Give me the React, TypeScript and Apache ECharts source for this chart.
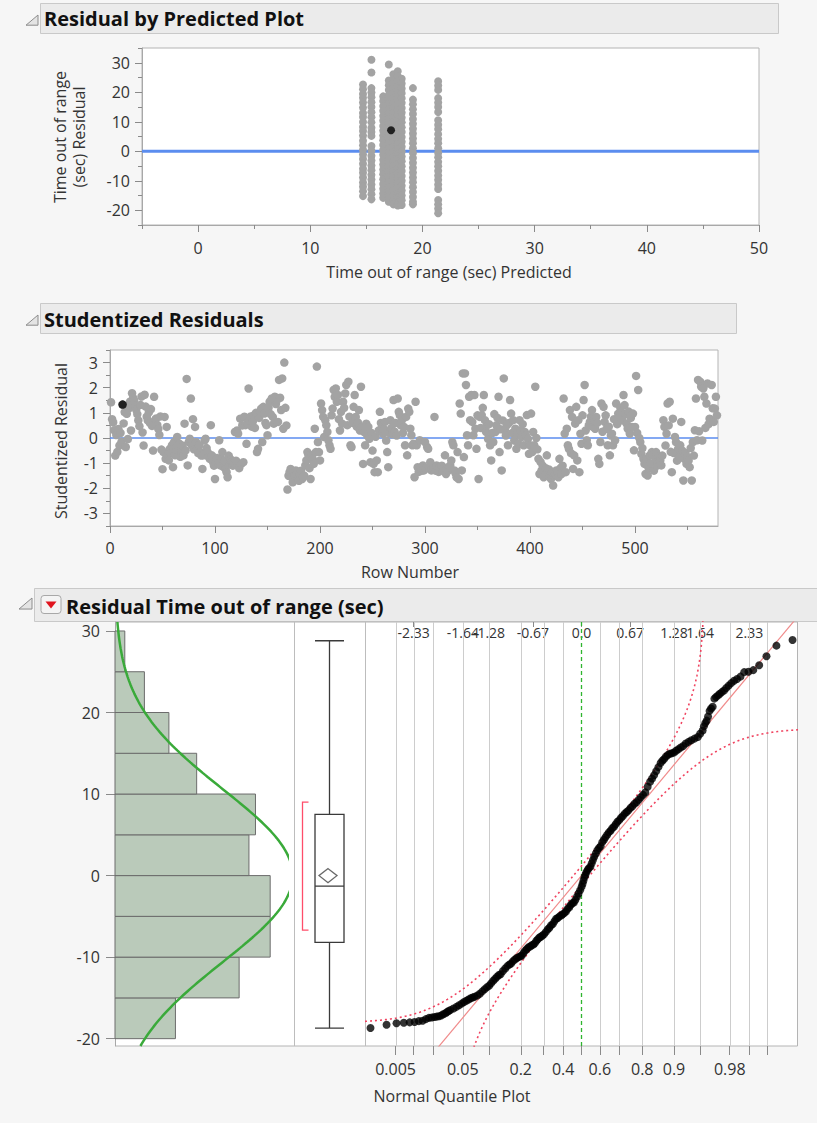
import React, { useEffect, useRef } from "react";
import * as echarts from "echarts";

const FONT = "'Open Sans', 'Noto Sans', 'DejaVu Sans', sans-serif";
const TEXT = "#333333";
const AXIS = "#a8a8a8";
const TICK = "#8a8a8a";

// ---------- Residual by Predicted ----------
const predLevels = [14.7, 15.45, 16.5, 17.0, 17.4, 17.8, 18.15, 19.15, 21.4];
const residualColumns: number[][] = [
  [22.6, 21.0, 19.4, 18.1, 16.5, 14.8, 13.0, 11.6, 9.9, 8.2, 6.9, 5.3, 3.6, 2.0, 0.5, -1.1, -2.6, -4.2, -5.9, -7.3, -8.9, -10.6, -12.0, -13.6, -15.2],
  [31.0, 26.7, 21.4, 19.9, 18.3, 16.6, 15.0, 13.2, 11.5, 9.8, 8.0, 6.5, 5.2, 1.8, 0.2, -1.5, -3.1, -4.8, -6.4, -8.0, -9.6, -11.3, -12.9, -14.6, -16.3],
  [18.6, 17.0, 15.3, 13.7, 12.0, 10.4, 8.6, 7.0, 5.3, 3.7, 2.1, 0.4, -1.2, -2.9, -4.5, -6.2, -7.8, -9.5, -11.1, -12.7, -14.3, -15.8],
  [29.4, 24.0, 22.4, 20.8, 19.1, 17.5, 15.9, 14.2, 12.6, 10.9, 9.3, 7.6, 6.0, 4.3, 2.7, 1.0, -0.6, -2.3, -3.9, -5.6, -7.2, -8.9, -10.5, -12.2, -13.8, -15.5, -17.1],
  [26.1, 24.5, 22.9, 21.2, 19.6, 17.9, 16.3, 14.6, 13.0, 11.3, 9.7, 8.0, 6.4, 4.7, 3.1, 1.4, -0.2, -1.9, -3.5, -5.2, -6.8, -8.5, -10.1, -11.8, -13.4, -15.1, -16.7, -18.0],
  [27.1, 25.4, 23.8, 22.1, 20.5, 18.8, 17.2, 15.5, 13.9, 12.2, 10.6, 8.9, 7.3, 5.6, 4.0, 2.3, 0.7, -1.0, -2.6, -4.3, -5.9, -7.6, -9.2, -10.9, -12.5, -14.2, -15.8, -17.5, -18.4],
  [24.6, 23.0, 21.3, 19.7, 18.0, 16.4, 14.7, 13.1, 11.4, 9.8, 8.1, 6.5, 4.8, 3.2, 1.5, -0.1, -1.8, -3.4, -5.1, -6.7, -8.4, -10.0, -11.7, -13.3, -15.0, -16.6, -18.2],
  [21.4, 17.5, 15.9, 14.2, 12.6, 10.9, 9.3, 7.6, 6.0, 4.3, 2.7, 1.0, -0.6, -2.3, -3.9, -5.6, -7.2, -8.9, -10.5, -12.2, -13.8, -15.5, -17.1, -18.0],
  [23.7, 22.3, 20.8, 18.0, 16.5, 15.0, 13.3, 10.5, 9.0, 7.5, 5.8, 4.2, 2.7, 1.0, -0.5, -2.0, -3.6, -5.1, -6.6, -8.2, -9.7, -11.3, -12.8, -16.5, -18.0, -19.4, -21.0],
];
const highlightPred = 17.2;
const highlightResidual = 7.1;
const predTicks = [0, 10, 20, 30, 40, 50];
const predMinorTicks = [-5, 5, 15, 25, 35, 45];
const residTicks = [-20, -10, 0, 10, 20, 30];
const residMinorTicks = [-25, -15, -5, 5, 15, 25, 35];

// ---------- Studentized residuals (rows 1..578) ----------
const studentized = [
  1.42, 0.75, 0.62, 0.31, -0.7, 0.12, -0.55, 0.36, -0.3, 0.2,
  -0.15, 1.33, 0.58, 1.03, -0.36, 0.96, -0.04, 1.18, 1.44, 0.3,
  1.78, 1.6, 1.5, 1.27, 1.12, 0.95, 0.7, 0.47, 1.32, 1.65,
  0.22, -0.3, 1.72, 1.25, 0.85, 0.7, 1.02, 0.6, 1.15, 0.48,
  -0.5, 1.64, 0.72, 0.78, 0.52, 0.36, 0.12, 0.86, -0.46, -1.24,
  -0.56, 0.84, -0.83, 0.44, -0.69, -0.89, -0.43, -0.6, -0.29, -1.16,
  -0.16, -0.69, -0.36, 0.04, -0.5, -0.23, -0.75, -0.56, -0.3, -0.69,
  0.57, -0.49, 2.35, -1.09, -0.16, -0.03, 1.57, -0.29, 0.75, -0.45,
  0.44, -0.16, -0.43, -0.6, -0.29, -0.56, -0.7, -1.23, -0.69, -0.1,
  -0.03, -0.4, -0.56, -0.75, -0.83, 0.51, -0.69, -0.95, -1.1, -1.63,
  -0.96, -0.8, -1.0, -0.09, -1.09, -0.83, -0.56, -1.15, -0.9, -1.23,
  -1.36, -1.56, -0.7, -1.05, -0.85, -0.96, -1.1, -1.0, 0.24, -0.9,
  0.3, 0.17, -1.2, 0.77, -1.03, 0.5, -0.96, 0.85, 0.51, -0.23,
  0.6, 1.97, 0.7, 0.86, 0.45, 0.65, 0.9, 0.4, 1.0, -0.56,
  -0.43, 0.8, 1.04, 1.17, -0.16, 1.24, 0.97, 0.6, 0.51, 0.11,
  1.2, 1.44, 0.95, 1.57, 0.84, 0.57, 1.64, 1.35, 1.51, 0.64,
  2.31, 1.6, 1.11, 2.37, 0.37, 3.0, 1.2, 0.5, -2.05, -1.5,
  -1.36, -1.23, -1.56, -1.76, -1.6, -1.49, -1.29, -1.45, -1.63, -1.7,
  -1.43, -1.3, -1.63, -1.56, -1.5, -1.09, -0.89, -0.56, -0.69, -1.2,
  -1.63, -0.69, -0.83, -1.03, 0.37, -0.56, 2.84, -0.16, -0.56, -0.89,
  1.37, 1.11, 0.84, 0.04, 0.71, 0.51, 0.24, -0.09, -0.29, -0.43,
  0.9, 1.17, 1.91, 1.64, 1.97, 1.44, 1.71, 0.75, 0.3, 1.04,
  0.57, 1.44, 1.2, 1.77, 2.11, 0.51, 2.24, 0.85, -0.29, -0.36,
  0.6, 1.24, 1.71, 0.84, 0.45, 0.62, 1.11, 0.3, 2.04, 0.44,
  -1.03, 0.24, -0.29, 0.57, 0.1, 0.44, -0.03, -0.96, 0.2, -0.5,
  -1.03, -1.36, 0.05, -0.89, -1.36, 0.3, 1.04, 0.6, 0.44, 0.17,
  0.35, 0.64, -0.1, -0.56, -1.16, 0.2, 0.71, 0.4, 0.15, 1.51,
  0.25, 0.6, 0.1, 1.57, 1.04, 0.91, 0.5, 0.71, 0.2, 0.44,
  -0.29, 0.84, -0.69, 1.17, 1.04, 0.37, 0.11, -0.29, -0.23, -1.56,
  1.44, -0.29, -1.16, -1.35, -0.09, -1.23, -1.3, -1.09, -1.29, -0.16,
  -1.2, -0.36, -0.43, -1.16, -0.96, -1.29, -1.22, -1.23, 0.84, -1.3,
  -1.09, -1.2, -1.35, -1.16, -1.25, -1.1, -1.29, -1.2, -0.69, -1.43,
  -1.23, -1.3, -1.15, -1.09, -0.89, -0.16, -0.29, -1.29, -1.4, -1.56,
  -0.56, -1.63, 1.37, 0.97, -1.29, 2.57, -0.76, 2.57, 2.11, 0.11,
  -0.29, 1.64, 0.71, 1.71, 0.64, 0.11, 1.71, 0.37, -0.43, 0.9,
  -1.63, 0.84, 0.4, 0.91, 1.2, 1.71, 0.71, 0.25, 0.51, -0.03,
  0.55, -0.29, -0.89, 0.2, -0.16, 0.95, 0.24, 0.51, 0.8, 1.64,
  -0.56, 0.35, -1.29, 0.7, 2.37, 0.31, 0.1, 0.51, -0.29, 0.6,
  1.51, 0.97, 0.2, 0.71, -0.1, 0.37, -0.43, 0.15, -0.23, 0.71,
  0.3, 0.04, 0.55, -0.29, 0.24, 0.1, 0.91, -0.03, -0.63, -0.29,
  0.97, -0.56, 0.24, -0.29, 2.04, 0.0, -0.45, -0.83, -1.43, -0.95,
  -1.29, -1.1, -1.56, -1.49, -1.2, -0.69, -1.36, -1.25, -1.56, -1.63,
  -1.35, -1.89, -1.5, -1.43, -1.29, -1.45, -1.56, -0.83, -1.2, -1.43,
  -1.1, 1.57, 0.17, -1.36, 0.37, -0.29, -0.43, 1.11, -0.6, 0.84,
  -1.23, -0.69, 0.57, 1.24, -0.89, 0.71, -1.36, 0.17, -0.23, 0.9,
  1.51, 2.11, 0.3, -0.09, -0.29, 0.5, 0.64, 0.85, 1.11, 0.44,
  0.7, 0.37, 0.84, 0.6, -0.83, -1.03, -0.16, 1.37, 0.25, 1.24,
  0.64, 0.9, 0.37, -0.29, 0.45, -0.69, 0.1, 0.17, -0.29, 0.75,
  -0.09, 1.37, 0.55, 0.97, 0.84, 1.2, 1.04, 0.7, 1.71, 1.31,
  0.95, 0.57, 0.37, 1.05, 0.17, 0.8, 0.44, 0.97, -0.49, 0.44,
  2.47, 0.2, 1.91, 0.0, -0.16, -0.63, -0.4, -0.83, -1.03, -1.43,
  -0.83, -1.49, -1.2, -0.69, -1.0, -0.56, -0.69, -1.3, -0.96, -0.56,
  -1.1, -0.76, -0.95, -0.89, -1.09, -0.7, 0.71, 0.44, -0.3, 0.17,
  1.37, 0.5, 1.44, -0.55, -1.36, 0.77, -0.6, 0.04, -0.16, -0.9,
  -0.43, -0.75, -0.29, 0.64, -0.5, -1.69, -0.83, -0.6, -1.03, -0.76,
  -0.9, -1.16, -0.4, -1.69, -0.16, -0.7, 0.31, 1.57, -0.09, 2.31,
  0.27, 2.24, 2.04, -0.1, 1.97, 1.64, 0.4, 1.37, 2.17, 0.55,
  0.77, 0.71, 2.11, 1.18, 0.64, 1.17, 1.64, 0.9,
];
const highlightRow = 12;
const rowTicks = [0, 100, 200, 300, 400, 500];
const rowMinorTicks = [50, 150, 250, 350, 450, 550];
const studTicks = [-3, -2, -1, 0, 1, 2, 3];
const studMinorTicks = [-3.5, -2.5, -1.5, -0.5, 0.5, 1.5, 2.5, 3.5];

// ---------- Distribution of residuals ----------
const nObs = 578;
const histBinStarts = [-20, -15, -10, -5, 0, 5, 10, 15, 20, 25];
const histBinWidth = 5;
const histCounts = [37, 76, 95, 95, 82, 86, 50, 33, 18, 6];
const distTicks = [-20, -10, 0, 10, 20, 30];
const boxStats = [-18.7, -8.2, -1.3, 7.5, 28.8]; // min, Q1, median, Q3, max
const residualMean = 0.0;
const residualSd = 10.6;
const shortestHalf = [-6.7, 9.0];
const lillieforsD = 0.0445;

const qqRanks = [
  1, 2, 3, 4, 5, 6, 7, 8, 9, 10, 11, 12, 13, 14, 15, 16, 17, 18, 19, 20,
  22, 24, 26, 28, 30, 32, 34, 36, 38, 40, 43, 46, 49, 52, 55, 58, 61, 64, 67, 70,
  73, 76, 80, 84, 88, 92, 95, 99, 103, 107, 111, 115, 118, 122, 126, 130, 134, 138, 142, 146,
  150, 154, 158, 162, 166, 170, 175, 180, 185, 190, 195, 200, 205, 210, 215, 220, 225, 230, 235, 240,
  245, 250, 255, 260, 265, 270, 275, 280, 285, 290, 293, 296, 299, 302, 305, 309, 313, 318, 322, 326,
  330, 335, 340, 345, 350, 355, 360, 365, 370, 375, 380, 385, 390, 395, 400, 405, 410, 415, 420, 425,
  430, 435, 440, 445, 450, 455, 460, 465, 470, 475, 480, 484, 488, 492, 496, 500, 503, 506, 509, 512,
  515, 518, 521, 524, 527, 530, 533, 536, 539, 542, 545, 548, 550, 552, 553, 554, 555, 556, 557, 558,
  559, 560, 561, 562, 563, 564, 565, 566, 567, 568, 569, 570, 571, 572, 573, 574, 575, 576, 577, 578,
];
const qqValues = [
  -18.7, -18.3, -18.1, -18.05, -18.0, -17.95, -17.85, -17.8, -17.6, -17.45, -17.4, -17.35, -17.3, -17.25, -17.15, -17.0, -16.9, -16.75, -16.6, -16.5,
  -16.3, -16.1, -15.9, -15.7, -15.5, -15.35, -15.2, -15.05, -14.95, -14.85, -14.7, -14.5, -14.2, -13.95, -13.7, -13.5, -13.2, -12.9, -12.65, -12.4,
  -12.2, -12.1, -11.7, -11.4, -11.1, -10.9, -10.8, -10.5, -10.3, -10.1, -10.0, -9.9, -9.8, -9.5, -9.2, -9.0, -8.8, -8.7, -8.55, -8.45,
  -8.3, -8.0, -7.8, -7.6, -7.5, -7.35, -7.2, -6.9, -6.6, -6.4, -6.1, -5.95, -5.6, -5.3, -5.2, -5.0, -4.9, -4.75, -4.6, -4.4,
  -4.1, -3.9, -3.6, -3.4, -3.3, -3.0, -2.6, -2.2, -1.8, -1.35, -1.0, -0.6, -0.2, 0.1, 0.4, 0.7, 0.9, 1.1, 1.5, 1.9,
  2.3, 2.7, 3.1, 3.4, 3.6, 4.1, 4.4, 4.7, 5.0, 5.3, 5.5, 5.8, 6.0, 6.3, 6.6, 6.8, 7.1, 7.3, 7.6, 7.8,
  8.0, 8.3, 8.5, 8.8, 9.0, 9.3, 9.6, 9.9, 10.2, 10.9, 11.5, 11.9, 12.3, 12.8, 13.3, 13.8, 14.1, 14.3, 14.6, 14.8,
  14.95, 15.0, 15.1, 15.3, 15.5, 15.7, 15.9, 16.2, 16.4, 16.6, 16.8, 17.0, 17.4, 17.8, 18.3, 18.7, 19.0, 19.5, 20.2, 20.5,
  20.7, 21.7, 21.9, 22.1, 22.3, 22.5, 22.7, 23.0, 23.3, 23.6, 23.9, 24.1, 24.4, 24.95, 25.0, 25.2, 25.8, 26.9, 28.2, 28.9,
];
const probGrid = [0.005, 0.01, 0.02, 0.05, 0.1, 0.2, 0.3, 0.4, 0.6, 0.7, 0.8, 0.9, 0.95, 0.98, 0.99, 0.995];
const probTickValues = [0.005, 0.01, 0.02, 0.05, 0.1, 0.2, 0.3, 0.4, 0.5, 0.6, 0.7, 0.8, 0.9, 0.95, 0.98, 0.99, 0.995];
const probLabels = [0.005, 0.05, 0.2, 0.4, 0.6, 0.8, 0.9, 0.98];
const quantileLabelValues = [-2.326, -1.645, -1.282, -0.674, 0, 0.674, 1.282, 1.645, 2.326];
const quantileLabels = ["-2.33", "-1.64", "-1.28", "-0.67", "0.0", "0.67", "1.28", "1.64", "2.33"];

// ---------- helpers ----------
function phi(z: number) {
  const x = Math.abs(z) / Math.SQRT2;
  const t = 1 / (1 + 0.3275911 * x);
  const y = 1 - ((((1.061405429 * t - 1.453152027) * t + 1.421413741) * t - 0.284496736) * t + 0.254829592) * t * Math.exp(-x * x);
  return z >= 0 ? (1 + y) / 2 : (1 - y) / 2;
}
function invPhi(p: number) {
  const a = [-3.969683028665376e1, 2.209460984245205e2, -2.759285104469687e2, 1.38357751867269e2, -3.066479806614716e1, 2.506628277459239];
  const b = [-5.447609879822406e1, 1.615858368580409e2, -1.556989798598866e2, 6.680131188771972e1, -1.328068155288572e1];
  const c = [-7.784894002430293e-3, -3.223964580411365e-1, -2.400758277161838, -2.549732539343734, 4.374664141464968, 2.938163982698783];
  const d = [7.784695709041462e-3, 3.224671290700398e-1, 2.445134137142996, 3.754408661907416];
  const pl = 0.02425;
  let q: number, r: number;
  if (p < pl) {
    q = Math.sqrt(-2 * Math.log(p));
    return (((((c[0] * q + c[1]) * q + c[2]) * q + c[3]) * q + c[4]) * q + c[5]) / ((((d[0] * q + d[1]) * q + d[2]) * q + d[3]) * q + 1);
  }
  if (p <= 1 - pl) {
    q = p - 0.5;
    r = q * q;
    return ((((((a[0] * r + a[1]) * r + a[2]) * r + a[3]) * r + a[4]) * r + a[5]) * q) / (((((b[0] * r + b[1]) * r + b[2]) * r + b[3]) * r + b[4]) * r + 1);
  }
  q = Math.sqrt(-2 * Math.log(1 - p));
  return -(((((c[0] * q + c[1]) * q + c[2]) * q + c[3]) * q + c[4]) * q + c[5]) / ((((d[0] * q + d[1]) * q + d[2]) * q + d[3]) * q + 1);
}

export default function App() {
  const ref = useRef<HTMLDivElement>(null);
  useEffect(() => {
    document.body.style.margin = "0";
    const chart = echarts.init(ref.current as HTMLDivElement, undefined, { renderer: "svg" });

    const DIST_MIN = -20.9;
    const DIST_MAX = 31.1;
    const labelStyle = { color: TEXT, fontFamily: FONT, fontSize: 16 };

    const majorAxis = (gridIndex: number, min: number, max: number, values: number[], margin: number, position: string) => ({
      type: "value", gridIndex, min, max, position,
      axisLine: { show: true, onZero: false, lineStyle: { color: AXIS } },
      axisTick: { show: true, customValues: values, length: 7, lineStyle: { color: TICK } },
      axisLabel: { show: true, customValues: values, margin, showMinLabel: true, showMaxLabel: true, ...labelStyle },
      splitLine: { show: false },
    });
    const minorAxis = (gridIndex: number, min: number, max: number, values: number[], position: string) => ({
      type: "value", gridIndex, min, max, position,
      axisLine: { show: false, onZero: false },
      axisTick: { show: true, customValues: values, length: 4, lineStyle: { color: TICK } },
      axisLabel: { show: false },
      splitLine: { show: false },
    });
    const hiddenAxis = (gridIndex: number, min: number, max: number) => ({
      type: "value", gridIndex, min, max, show: false,
      axisLine: { show: false, onZero: false }, splitLine: { show: false },
    });

    const residualPoints: number[][] = [];
    residualColumns.forEach((col, i) => col.forEach((v) => residualPoints.push([predLevels[i], v])));
    const studPoints = studentized.map((v, i) => [i + 1, v]);

    const curve: number[][] = [];
    for (let k = 0; k <= 208; k++) {
      const y = DIST_MIN + k * 0.25;
      const zz = (y - residualMean) / residualSd;
      curve.push([(nObs * histBinWidth * Math.exp(-0.5 * zz * zz)) / (residualSd * Math.sqrt(2 * Math.PI)), y]);
    }

    const upperBand: number[][] = [];
    const lowerBand: number[][] = [];
    for (let k = 0; k <= 300; k++) {
      const z = -3 + k * 0.02;
      const p = phi(z);
      const pu = p + lillieforsD;
      const pd = p - lillieforsD;
      upperBand.push([z, pu < 1 - 1e-6 ? residualMean + residualSd * invPhi(pu) : 150]);
      lowerBand.push([z, pd > 1e-6 ? residualMean + residualSd * invPhi(pd) : -150]);
    }

    const qqPoints = qqRanks.map((r, i) => [invPhi(r / (nObs + 1)), qqValues[i]]);
    const probLabelZ = probLabels.map(invPhi);

    const tri = (x: number, y: number, s: number) => ({
      type: "polygon", z: 10,
      shape: { points: [[x + s, y], [x + s, y + s * 0.85], [x, y + s * 0.85]] },
      style: { fill: "#e4e4e4", stroke: "#8c8c8c", lineWidth: 1 },
    });
    const headerText = (x: number, y: number, text: string) => ({
      type: "text", x, y, z: 10,
      style: { text, fill: "#111", fontFamily: FONT, fontSize: 20, fontWeight: "bold", align: "left", verticalAlign: "middle" },
    });
    const plainText = (x: number, y: number, text: string, rotate = false, lineHeight = 20) => ({
      type: "text", x, y, z: 10, rotation: rotate ? Math.PI / 2 : 0,
      style: { text, fill: TEXT, fontFamily: FONT, fontSize: 16, align: "center", verticalAlign: "middle", lineHeight },
    });

    const option: any = {
      animation: false,
      backgroundColor: "#f6f6f6",
      textStyle: { fontFamily: FONT },
      grid: [
        { left: 142, top: 48, width: 617, height: 177, show: true, backgroundColor: "#ffffff", borderColor: "#b4b4b4", borderWidth: 1 },
        { left: 110, top: 350, width: 608, height: 176, show: true, backgroundColor: "#ffffff", borderColor: "#b4b4b4", borderWidth: 1 },
        { left: 115, top: 622, width: 172, height: 424, show: false },
        { left: 294, top: 622, width: 71, height: 424, show: false },
        { left: 365, top: 622, width: 433, height: 424, show: false },
      ],
      xAxis: [
        majorAxis(0, -5, 50, predTicks, 15, "bottom"),
        minorAxis(0, -5, 50, predMinorTicks, "bottom"),
        majorAxis(1, 0, 579, rowTicks, 14, "bottom"),
        minorAxis(1, 0, 579, rowMinorTicks, "bottom"),
        hiddenAxis(2, 0, 105.3),
        { type: "category", gridIndex: 3, data: ["r"], show: false, axisLine: { show: false, onZero: false } },
        {
          type: "value", gridIndex: 4, min: -3, max: 3, position: "bottom",
          axisLine: { show: false, onZero: false },
          axisTick: { show: true, customValues: probTickValues.map(invPhi), length: 9, lineStyle: { color: TICK } },
          axisLabel: {
            show: true, customValues: probLabelZ, margin: 15, ...labelStyle,
            formatter: (v: number) => {
              const i = probLabelZ.findIndex((z) => Math.abs(z - v) < 1e-6);
              return i >= 0 ? String(probLabels[i]) : "";
            },
          },
          splitLine: { show: false },
        },
        {
          type: "value", gridIndex: 4, min: -3, max: 3, position: "top",
          axisLine: { show: false, onZero: false },
          axisTick: { show: true, inside: true, customValues: quantileLabelValues, length: 5, lineStyle: { color: TICK } },
          axisLabel: {
            show: true, inside: true, customValues: quantileLabelValues, margin: 3, color: TEXT, fontFamily: FONT, fontSize: 14,
            formatter: (v: number) => {
              const i = quantileLabelValues.findIndex((z) => Math.abs(z - v) < 1e-6);
              return i >= 0 ? quantileLabels[i] : "";
            },
          },
          splitLine: { show: false },
        },
      ],
      yAxis: [
        majorAxis(0, -25, 35, residTicks, 12, "left"),
        minorAxis(0, -25, 35, residMinorTicks, "left"),
        majorAxis(1, -3.5, 3.5, studTicks, 12, "left"),
        minorAxis(1, -3.5, 3.5, studMinorTicks, "left"),
        {
          type: "value", gridIndex: 2, min: DIST_MIN, max: DIST_MAX, position: "left",
          axisLine: { show: true, onZero: false, lineStyle: { color: AXIS } },
          axisTick: { show: true, customValues: distTicks, length: 9, lineStyle: { color: TICK } },
          axisLabel: { show: true, customValues: distTicks, margin: 15, ...labelStyle },
          splitLine: { show: false },
        },
        hiddenAxis(3, DIST_MIN, DIST_MAX),
        hiddenAxis(4, DIST_MIN, DIST_MAX),
      ],
      graphic: {
        elements: [
          // header 1
          { type: "rect", z: -5, shape: { x: 40.5, y: 3.5, width: 738, height: 30 }, style: { fill: "#ebebeb", stroke: "#c9c9c9", lineWidth: 1 } },
          tri(26, 15, 12),
          headerText(44, 18, "Residual by Predicted Plot"),
          // header 2
          { type: "rect", z: -5, shape: { x: 40.5, y: 303.5, width: 696, height: 30 }, style: { fill: "#ebebeb", stroke: "#c9c9c9", lineWidth: 1 } },
          tri(26, 315, 12),
          headerText(44, 319, "Studentized Residuals"),
          // header 3
          { type: "rect", z: -5, shape: { x: 34.5, y: 588.5, width: 790, height: 33 }, style: { fill: "#ebebeb", stroke: "#c9c9c9", lineWidth: 1 } },
          tri(19, 598, 13),
          { type: "rect", z: 10, shape: { x: 41, y: 595.5, width: 20, height: 18, r: 3 }, style: { fill: "#f4f4f4", stroke: "#a8a8a8", lineWidth: 1 } },
          { type: "polygon", z: 11, shape: { points: [[45.5, 601.5], [56.5, 601.5], [51, 608.5]] }, style: { fill: "#e0141e" } },
          headerText(66, 606, "Residual Time out of range (sec)"),
          // distribution panel background
          { type: "rect", z: -5, shape: { x: 115.5, y: 622, width: 682, height: 424 }, style: { fill: "#ffffff", stroke: "#b4b4b4", lineWidth: 1 } },
          { type: "line", z: 1, shape: { x1: 294.5, y1: 622, x2: 294.5, y2: 1046 }, style: { stroke: "#bdbdbd", lineWidth: 1 } },
          { type: "line", z: 1, shape: { x1: 365.5, y1: 622, x2: 365.5, y2: 1046 }, style: { stroke: "#bdbdbd", lineWidth: 1 } },
          // axis titles
          plainText(69, 137, "Time out of range\n(sec) Residual", true, 19),
          plainText(449, 272, "Time out of range (sec) Predicted"),
          plainText(61, 441, "Studentized Residual", true),
          plainText(410, 572, "Row Number"),
          plainText(452, 1096, "Normal Quantile Plot"),
        ],
      },
      series: [
        {
          type: "line", xAxisIndex: 0, yAxisIndex: 0, data: [[-5, 0], [50, 0]], symbol: "none", silent: true, z: 2,
          lineStyle: { color: "#5b8def", width: 3 },
        },
        {
          type: "scatter", xAxisIndex: 0, yAxisIndex: 0, data: residualPoints, symbolSize: 8, z: 3,
          itemStyle: { color: "#a3a3a3", opacity: 1 },
        },
        {
          type: "scatter", xAxisIndex: 0, yAxisIndex: 0, data: [[highlightPred, highlightResidual]], symbolSize: 8, z: 4,
          itemStyle: { color: "#000000" },
        },
        {
          type: "line", xAxisIndex: 2, yAxisIndex: 2, data: [[0, 0], [579, 0]], symbol: "none", silent: true, z: 2,
          lineStyle: { color: "#5b8def", width: 1.5 },
        },
        {
          type: "scatter", xAxisIndex: 2, yAxisIndex: 2, data: studPoints, symbolSize: 8.5, z: 3,
          itemStyle: { color: "#a3a3a3", opacity: 1 },
        },
        {
          type: "scatter", xAxisIndex: 2, yAxisIndex: 2, data: [[highlightRow, studentized[highlightRow - 1]]], symbolSize: 8.5, z: 4,
          itemStyle: { color: "#000000" },
        },
        {
          type: "custom", xAxisIndex: 4, yAxisIndex: 4, z: 2,
          data: histBinStarts.map((s, i) => [histCounts[i], s]),
          encode: { x: 0, y: 1 },
          renderItem: (params: any, api: any) => {
            const c = api.value(0);
            const y0 = api.value(1);
            const pTop = api.coord([0, y0 + histBinWidth]);
            const pBot = api.coord([c, y0]);
            return {
              type: "rect",
              shape: { x: pTop[0], y: pTop[1], width: pBot[0] - pTop[0], height: pBot[1] - pTop[1] },
              style: { fill: "#bacaba", stroke: "#6c6c6c", lineWidth: 1 },
            };
          },
        },
        {
          type: "line", xAxisIndex: 4, yAxisIndex: 4, data: curve, symbol: "none", clip: true, z: 3, silent: true,
          lineStyle: { color: "#3aaa3a", width: 2.5 },
        },
        {
          type: "boxplot", xAxisIndex: 5, yAxisIndex: 5, data: [boxStats], boxWidth: [29, 29], z: 2,
          itemStyle: { color: "#ffffff", borderColor: "#3a3a3a", borderWidth: 1.3 },
        },
        {
          type: "scatter", xAxisIndex: 5, yAxisIndex: 5, data: [[0, residualMean]], symbol: "diamond", symbolSize: [18, 14],
          symbolOffset: [-1.5, 0], z: 4,
          itemStyle: { color: "#ffffff", borderColor: "#444444", borderWidth: 1.3 },
        },
        {
          type: "custom", xAxisIndex: 5, yAxisIndex: 5, z: 4,
          data: [[0, shortestHalf[0], shortestHalf[1]]],
          encode: { x: 0, y: [1, 2] },
          renderItem: (params: any, api: any) => {
            const lo = api.coord([api.value(0), api.value(1)]);
            const hi = api.coord([api.value(0), api.value(2)]);
            const x = lo[0] - 27;
            return {
              type: "polyline",
              shape: { points: [[x + 6, hi[1]], [x, hi[1]], [x, lo[1]], [x + 6, lo[1]]] },
              style: { stroke: "#ff4d6a", lineWidth: 1.3, fill: "none" },
            };
          },
        },
        {
          type: "custom", xAxisIndex: 6, yAxisIndex: 6, z: 1, silent: true,
          data: probGrid.map((p) => [invPhi(p), 0]),
          encode: { x: 0, y: 1 },
          renderItem: (params: any, api: any) => {
            const a = api.coord([api.value(0), DIST_MIN]);
            const b = api.coord([api.value(0), DIST_MAX]);
            const x = Math.round(a[0]) + 0.5;
            return { type: "line", shape: { x1: x, y1: a[1], x2: x, y2: b[1] }, style: { stroke: "#cdcdcd", lineWidth: 1 } };
          },
        },
        {
          type: "line", xAxisIndex: 6, yAxisIndex: 6, data: [[0, DIST_MIN], [0, DIST_MAX]], symbol: "none", z: 2, silent: true,
          lineStyle: { color: "#2fb52f", width: 1.3, type: [4, 3] },
        },
        {
          type: "line", xAxisIndex: 6, yAxisIndex: 6, symbol: "none", z: 3, silent: true, clip: true,
          data: [[-3, residualMean - 3 * residualSd], [3, residualMean + 3 * residualSd]],
          lineStyle: { color: "#f08a8a", width: 1.2 },
        },
        {
          type: "line", xAxisIndex: 6, yAxisIndex: 6, symbol: "none", z: 3, silent: true, clip: true, data: upperBand,
          lineStyle: { color: "#f0435f", width: 1.6, type: [2, 3] },
        },
        {
          type: "line", xAxisIndex: 6, yAxisIndex: 6, symbol: "none", z: 3, silent: true, clip: true, data: lowerBand,
          lineStyle: { color: "#f0435f", width: 1.6, type: [2, 3] },
        },
        {
          type: "scatter", xAxisIndex: 6, yAxisIndex: 6, data: qqPoints, symbolSize: 8, z: 4,
          itemStyle: { color: "#000000" },
        },
      ],
    };

    chart.setOption(option);
    return () => chart.dispose();
  }, []);

  return <div ref={ref} style={{ width: 817, height: 1123 }} />;
}
